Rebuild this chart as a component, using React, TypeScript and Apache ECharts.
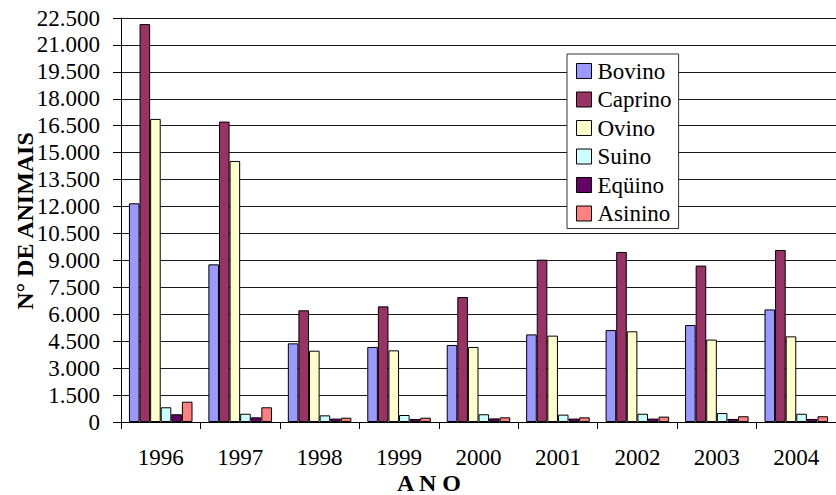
import React, { useEffect, useRef } from "react";
import * as echarts from "echarts";

const years = ["1996", "1997", "1998", "1999", "2000", "2001", "2002", "2003", "2004"];
const bovino = [12180, 8780, 4380, 4180, 4290, 4880, 5120, 5400, 6270];
const caprino = [22160, 16730, 6220, 6440, 6960, 9040, 9470, 8710, 9580];
const ovino = [16880, 14540, 3970, 3990, 4180, 4810, 5050, 4590, 4770];
const suino = [820, 460, 370, 390, 430, 410, 460, 500, 460];
const equino = [430, 260, 190, 170, 200, 190, 190, 170, 170];
const asinino = [1130, 820, 240, 240, 260, 260, 300, 320, 320];

const seriesNames = ["Bovino", "Caprino", "Ovino", "Suino", "Eqüino", "Asinino"];
const seriesData = [bovino, caprino, ovino, suino, equino, asinino];
const seriesColors = ["#9999FF", "#993366", "#FFFFCC", "#CCFFFF", "#660066", "#FF8080"];

const FONT = "Liberation Serif";

export default function App() {
  const ref = useRef<HTMLDivElement>(null);
  useEffect(() => {
    if (!ref.current) return;
    const chart = echarts.init(ref.current, undefined, { renderer: "svg" });
    chart.setOption({
      animation: false,
      backgroundColor: "#ffffff",
      textStyle: { fontFamily: FONT },
      grid: { left: 121, top: 18, bottom: 73, right: -7, containLabel: false },
      legend: {
        orient: "vertical",
        left: 567,
        top: 54,
        padding: [5, 7, 3, 9],
        itemWidth: 15,
        itemHeight: 15,
        itemGap: 4.5,
        backgroundColor: "#ffffff",
        borderColor: "#333333",
        borderWidth: 1,
        icon: "rect",
        itemStyle: { borderColor: "#000", borderWidth: 1 },
        textStyle: { fontFamily: FONT, fontSize: 23, color: "#000", lineHeight: 24, padding: [0, 0, 0, 1] },
        data: seriesNames,
      },
      xAxis: {
        type: "category",
        data: years,
        boundaryGap: true,
        axisLine: { lineStyle: { color: "#000", width: 1 } },
        axisTick: { show: true, length: 7, inside: false, lineStyle: { color: "#000" } },
        axisLabel: { fontFamily: FONT, fontSize: 23, color: "#000", margin: 24 },
        splitLine: { show: false },
      },
      yAxis: {
        type: "value",
        min: 0,
        max: 22500,
        interval: 1500,
        axisLine: { show: true, lineStyle: { color: "#000", width: 1 } },
        axisTick: { show: true, length: 8, lineStyle: { color: "#000" } },
        axisLabel: {
          fontFamily: FONT,
          fontSize: 23,
          color: "#000",
          margin: 21,
          formatter: (v: number) => (v === 0 ? "0" : v.toLocaleString("de-DE")),
        },
        splitLine: { show: true, lineStyle: { color: "#1a1a1a", width: 1 } },
      },
      graphic: [
        {
          type: "text",
          x: 25,
          y: 221,
          rotation: Math.PI / 2,
          style: {
            text: "N° DE ANIMAIS",
            fontFamily: FONT,
            fontSize: 24,
            fontWeight: "bold",
            fill: "#000",
            align: "center",
            verticalAlign: "middle",
          },
        },
        {
          type: "text",
          x: 429,
          y: 483,
          style: {
            text: "A N O",
            fontFamily: FONT,
            fontSize: 24,
            fontWeight: "bold",
            fill: "#000",
            align: "center",
            verticalAlign: "middle",
          },
        },
      ],
      series: seriesNames.map((name, i) => ({
        name,
        type: "bar",
        data: seriesData[i],
        barGap: "0%",
        barCategoryGap: "20%",
        itemStyle: { color: seriesColors[i], borderColor: "#000", borderWidth: 1 },
      })),
    });
    return () => chart.dispose();
  }, []);
  return <div ref={ref} style={{ width: 836, height: 495, position: "absolute", left: 0, top: 0 }} />;
}
